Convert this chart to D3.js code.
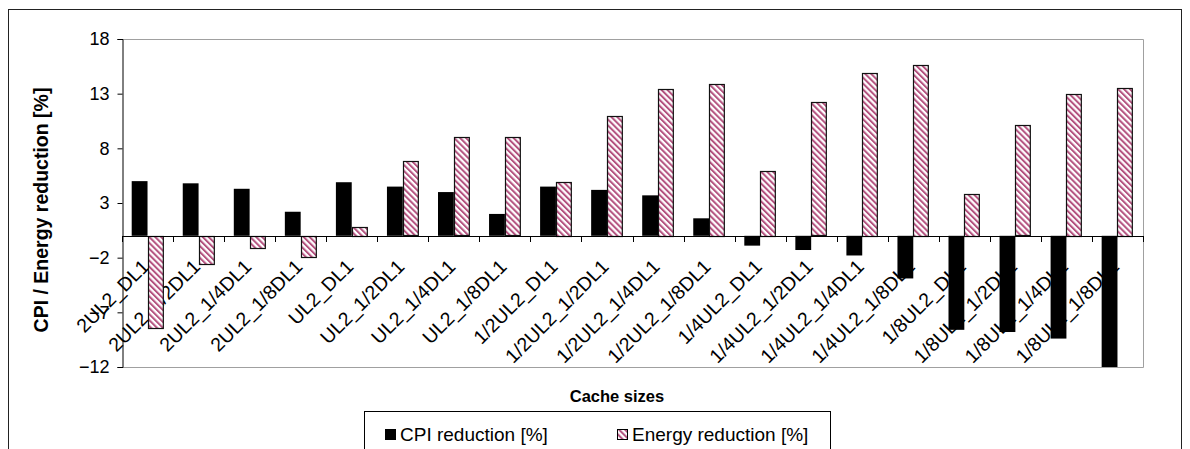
<!DOCTYPE html>
<html>
<head>
<meta charset="utf-8">
<script src="https://cdn.jsdelivr.net/npm/d3@7"></script>
<style>
  html, body { margin: 0; padding: 0; background: #fff; }
  svg { display: block; font-family: "Liberation Sans", Arial, sans-serif; }
</style>
</head>
<body>
<script>
(function() {
    'use strict';

    var categories = [
        '2UL2_DL1', '2UL2_1/2DL1', '2UL2_1/4DL1', '2UL2_1/8DL1',
        'UL2_DL1', 'UL2_1/2DL1', 'UL2_1/4DL1', 'UL2_1/8DL1',
        '1/2UL2_DL1', '1/2UL2_1/2DL1', '1/2UL2_1/4DL1', '1/2UL2_1/8DL1',
        '1/4UL2_DL1', '1/4UL2_1/2DL1', '1/4UL2_1/4DL1', '1/4UL2_1/8DL1',
        '1/8UL2_DL1', '1/8UL2_1/2DL1', '1/8UL2_1/4DL1', '1/8UL2_1/8DL1'
    ];
    var cpiReduction = [5.0, 4.8, 4.3, 2.2, 4.9, 4.5, 4.0, 2.0, 4.5, 4.2, 3.7, 1.6,
        -0.9, -1.3, -1.8, -3.9, -8.6, -8.8, -9.4, -12];
    var energyReduction = [-8.4, -2.6, -1.1, -1.9, 0.8, 6.8, 9.0, 9.0, 4.9, 11.0, 13.4, 13.9,
        5.9, 12.2, 14.9, 15.6, 3.8, 10.1, 13.0, 13.5];
    var seriesNames = ['CPI reduction [%]', 'Energy reduction [%]'];
    var yTicks = [18, 13, 8, 3, -2, -7, -12];

    var width = 1190, height = 449;
    var plot = { left: 122, right: 1143, top: 39, bottom: 367 };

    var svg = d3.select('body').append('svg')
        .attr('width', width)
        .attr('height', height);

    var defs = svg.append('defs');
    var hatch = defs.append('pattern')
        .attr('id', 'hatch')
        .attr('patternUnits', 'userSpaceOnUse')
        .attr('width', 4.2)
        .attr('height', 4.2)
        .attr('patternTransform', 'rotate(-45)');
    hatch.append('rect').attr('width', 4.2).attr('height', 4.2).attr('fill', '#fff');
    hatch.append('rect').attr('width', 2).attr('height', 4.2).attr('fill', '#b4527f');

    defs.append('clipPath').attr('id', 'plotclip')
        .append('rect')
        .attr('x', plot.left).attr('y', plot.top)
        .attr('width', plot.right - plot.left).attr('height', plot.bottom - plot.top + 0.5);

    // outer frame
    svg.append('rect')
        .attr('x', 8.5).attr('y', 9.5)
        .attr('width', 1173).attr('height', 470)
        .attr('fill', 'none').attr('stroke', '#222');

    var x0 = d3.scaleBand().domain(categories).range([plot.left, plot.right]);
    var bw = x0.bandwidth();
    var x1 = d3.scaleBand().domain(seriesNames).range([bw * 0.19, bw * 0.81]);
    var y = d3.scaleLinear().domain([-12, 18]).range([plot.bottom, plot.top]);

    // plot area border (grey)
    svg.append('path')
        .attr('d', 'M' + plot.left + ',' + (plot.top + 0.5) + 'H' + (plot.right + 0.5) +
            'V' + (plot.bottom + 0.5) + 'H' + plot.left)
        .attr('fill', 'none').attr('stroke', '#a0a0a0');

    // y axis
    var yAxis = svg.append('g')
        .attr('transform', 'translate(' + (plot.left + 0.5) + ',0)')
        .call(d3.axisLeft(y).tickValues(yTicks).tickSize(5).tickPadding(8).tickFormat(d3.format('d')));
    yAxis.select('.domain').attr('stroke', '#000');
    yAxis.selectAll('.tick line').attr('stroke', '#000');
    yAxis.selectAll('.tick text')
        .attr('font-size', 18)
        .attr('font-family', '"Liberation Sans", Arial, sans-serif')
        .attr('fill', '#000');

    // category labels (drawn under the bars)
    var y0 = y(0);
    svg.append('g').selectAll('text')
        .data(categories)
        .join('text')
        .attr('transform', function(d) {
            return 'translate(' + (x0(d) + bw / 2 - 7) + ',' + (y0 + 22) + ') rotate(-45)';
        })
        .attr('text-anchor', 'end')
        .attr('dy', '0.72em')
        .attr('font-size', 19.5)
        .attr('fill', '#000')
        .text(function(d) { return d; });

    // bars
    var bars = svg.append('g').attr('clip-path', 'url(#plotclip)');
    bars.selectAll('rect.cpi')
        .data(cpiReduction)
        .join('rect')
        .attr('class', 'cpi')
        .attr('x', function(d, i) { return x0(categories[i]) + x1(seriesNames[0]); })
        .attr('width', x1.bandwidth())
        .attr('y', function(d) { return y(Math.max(0, d)); })
        .attr('height', function(d) { return Math.abs(y(d) - y0); })
        .attr('fill', '#000');
    bars.selectAll('rect.energy')
        .data(energyReduction)
        .join('rect')
        .attr('class', 'energy')
        .attr('x', function(d, i) { return Math.round(x0(categories[i]) + x1(seriesNames[1])) + 0.5; })
        .attr('width', x1.bandwidth() - 1)
        .attr('y', function(d) { return Math.round(y(Math.max(0, d))) + 0.5; })
        .attr('height', function(d) { return Math.round(Math.abs(y(d) - y0)); })
        .attr('fill', 'url(#hatch)')
        .attr('stroke', '#111')
        .attr('stroke-width', 1.2);

    // x axis line at zero with ticks between categories
    var boundaries = categories.map(function(c) { return x0(c); }).concat([x0.range()[1]]);
    var xAxis = svg.append('g');
    xAxis.append('line')
        .attr('x1', plot.left).attr('x2', plot.right + 1)
        .attr('y1', Math.round(y0) + 0.5).attr('y2', Math.round(y0) + 0.5)
        .attr('stroke', '#000');
    xAxis.selectAll('line.tick')
        .data(boundaries)
        .join('line')
        .attr('class', 'tick')
        .attr('x1', function(d) { return Math.round(d) + 0.5; })
        .attr('x2', function(d) { return Math.round(d) + 0.5; })
        .attr('y1', Math.round(y0)).attr('y2', Math.round(y0) + 6)
        .attr('stroke', '#000');

    // axis titles
    svg.append('text')
        .attr('transform', 'translate(48,210) rotate(-90)')
        .attr('text-anchor', 'middle')
        .attr('font-size', 19.5)
        .attr('font-weight', 'bold')
        .text('CPI / Energy reduction [%]');
    svg.append('text')
        .attr('x', 617).attr('y', 402)
        .attr('text-anchor', 'middle')
        .attr('font-size', 16.5)
        .attr('font-weight', 'bold')
        .text('Cache sizes');

    // legend
    var legend = svg.append('g');
    legend.append('rect')
        .attr('x', 364.5).attr('y', 411.5)
        .attr('width', 466).attr('height', 60)
        .attr('fill', '#fff').attr('stroke', '#000');
    var items = [
        { name: seriesNames[0], fill: '#000', x: 385 },
        { name: seriesNames[1], fill: 'url(#hatch)', x: 617 }
    ];
    var li = legend.selectAll('g.item').data(items).join('g').attr('class', 'item')
        .attr('transform', function(d) { return 'translate(' + d.x + ',429)'; });
    li.append('rect')
        .attr('x', 0.5).attr('y', 0.5).attr('width', 10).attr('height', 10)
        .attr('fill', function(d) { return d.fill; })
        .attr('stroke', '#000');
    li.append('text')
        .attr('x', 15).attr('y', 11.5)
        .attr('font-size', 19)
        .text(function(d) { return d.name; });
}());
</script>
</body>
</html>
